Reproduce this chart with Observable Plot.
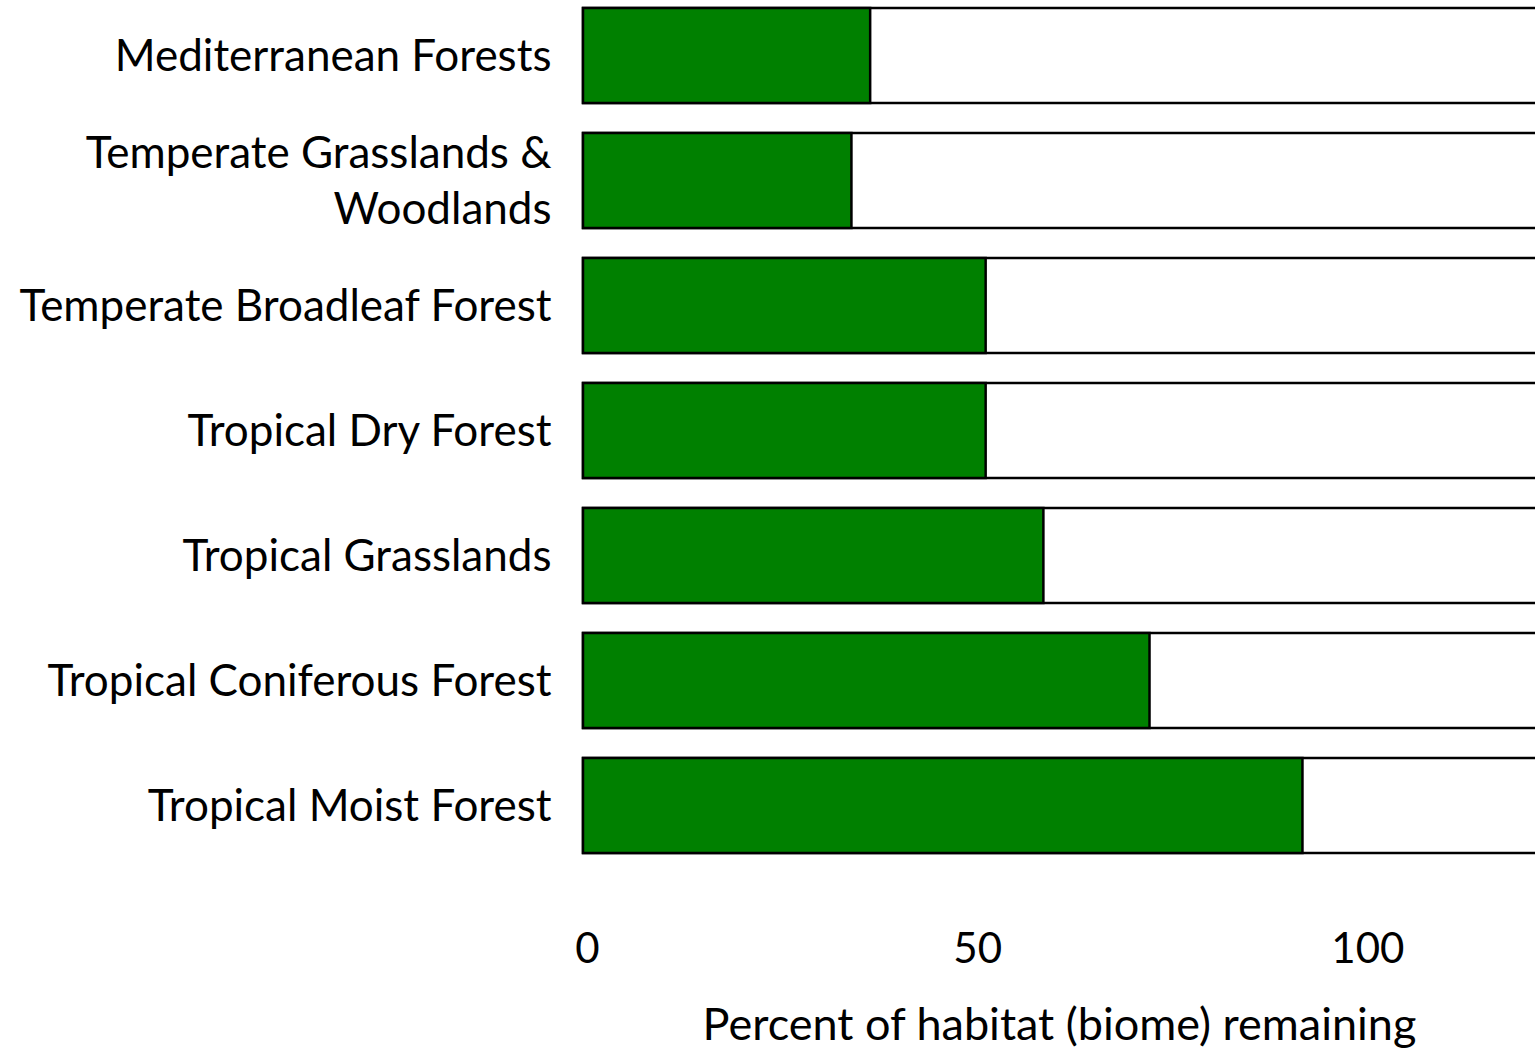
<!DOCTYPE html>
<html>
<head>
<meta charset="utf-8">
<script src="https://cdn.jsdelivr.net/npm/d3@7"></script>
<script src="https://cdn.jsdelivr.net/npm/@observablehq/plot@0.6"></script>
<style>
  html, body { margin: 0; padding: 0; background: #fff; }
  #chart svg { display: block; }
</style>
</head>
<body>
<div id="chart"></div>
<script>
const biomes = [
  "Mediterranean Forests",
  "Temperate Grasslands & Woodlands",
  "Temperate Broadleaf Forest",
  "Tropical Dry Forest",
  "Tropical Grasslands",
  "Tropical Coniferous Forest",
  "Tropical Moist Forest"
];
const remaining = [36.8, 34.4, 51.6, 51.6, 59.0, 72.6, 92.2];
const trackMax = 122.5;
const xTicks = [0, 50, 100];
const xLabel = "Percent of habitat (biome) remaining";
const tickLabels = {
  "Temperate Grasslands & Woodlands": "Temperate Grasslands &\nWoodlands"
};

const data = biomes.map((b, i) => ({biome: b, value: remaining[i], track: trackMax}));

const chart = Plot.plot({
  width: 1535,
  height: 1053,
  marginLeft: 583,
  marginRight: 0,
  marginTop: 0,
  marginBottom: 200,
  style: {fontFamily: "Lato, sans-serif", background: "#fff", color: "#000"},
  x: {domain: [0, 122], range: [583, 1535]},
  y: {domain: biomes, range: [8, 853], paddingInner: 0.24, paddingOuter: 0},
  marks: [
    Plot.barX(data, {y: "biome", x1: 0, x2: "track", fill: "#fff", stroke: "#000", strokeWidth: 2.5}),
    Plot.barX(data, {y: "biome", x1: 0, x2: "value", fill: "#008000", stroke: "#000", strokeWidth: 2.5}),
    Plot.axisY({
      tickSize: 0, tickPadding: 32, fontSize: 44, lineHeight: 1.27, dy: -3,
      tickFormat: d => tickLabels[d] ?? d, label: null
    }),
    Plot.axisX({
      ticks: xTicks, tickSize: 0, tickPadding: 80, fontSize: 42, dx: 4,
      label: null
    }),
    Plot.axisX({
      ticks: [], tickSize: 0, fontSize: 45,
      label: xLabel, labelAnchor: "center", labelArrow: "none", labelOffset: 186
    })
  ]
});
document.getElementById("chart").appendChild(chart);
</script>
</body>
</html>
